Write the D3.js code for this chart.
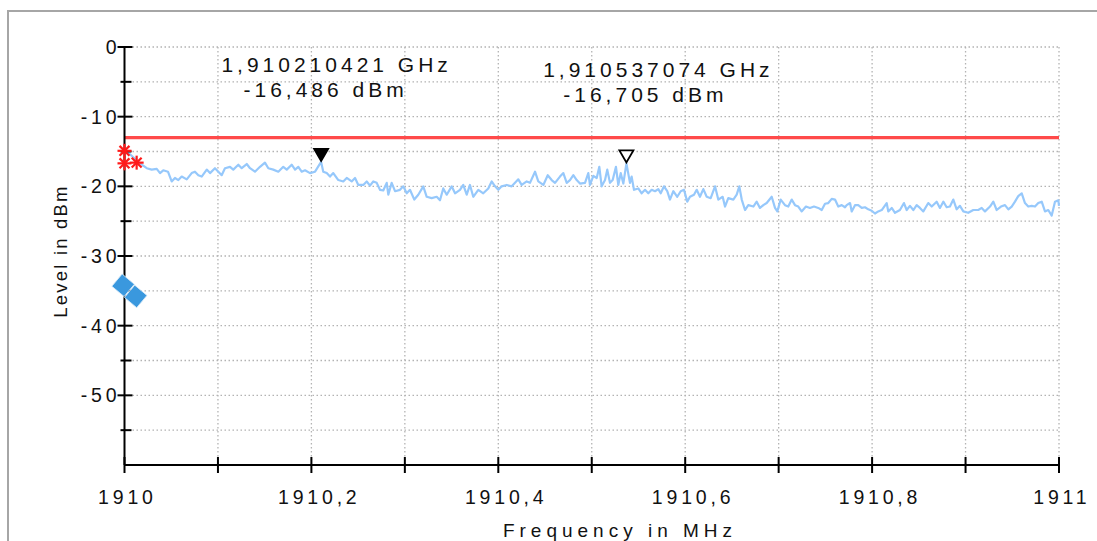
<!DOCTYPE html>
<html>
<head>
<meta charset="utf-8">
<script src="https://cdn.jsdelivr.net/npm/d3@7"></script>
<style>
  html, body { margin: 0; padding: 0; background: #fff; }
  svg { display: block; }
  text { font-family: "Liberation Sans", Arial, sans-serif; fill: #111; }
</style>
</head>
<body>
<svg id="chart" width="1097" height="541"></svg>
<script>
// Spectrum trace: frequency offset from 1910 MHz in kHz, and level in dBm
const startMHz = 1910;
const traceOffsetKHz = [
  0, 5.9, 16.6, 23.8, 29.1, 34.5, 38.0, 41.5, 46.5, 50.5, 54.0, 57.6, 61.2, 66.6, 71.9, 75.4,
  79.0, 82.6, 88.0, 91.5, 96.8, 100.4, 104.0, 107.5, 112.9, 116.4, 121.8, 125.4, 130.8, 134.3,
  139.6, 145.0, 150.3, 153.9, 159.2, 164.6, 169.9, 173.6, 178.9, 182.5, 186.0, 189.6, 193.2,
  198.5, 203.9, 210.4, 212.7, 216.4, 219.9, 223.4, 228.8, 234.1, 237.8, 243.1, 246.7, 250.2,
  255.5, 259.2, 262.7, 266.2, 269.9, 273.4, 276.9, 280.6, 282.3, 285.9, 289.5, 294.8, 298.3,
  302.0, 305.5, 310.1, 314.4, 319.7, 323.4, 328.7, 334.1, 337.6, 341.1, 344.8, 350.1, 353.7,
  359.0, 362.5, 366.2, 369.7, 373.2, 378.6, 383.9, 389.3, 392.9, 396.5, 400.0, 403.6, 409.0,
  414.3, 417.9, 421.4, 425.0, 430.4, 433.9, 439.3, 442.8, 448.2, 452.9, 457.1, 460.7, 466.0,
  469.6, 473.2, 476.7, 480.3, 483.9, 487.4, 492.8, 496.3, 498.1, 501.7, 505.3, 508.1, 510.6,
  514.2, 516.6, 519.5, 522.4, 525.9, 528.4, 531.0, 533.8, 537.1, 540.9, 542.7, 545.2, 549.8,
  553.4, 557.0, 560.5, 564.1, 567.7, 571.2, 573.8, 577.3, 580.8, 583.7, 587.3, 591.5, 595.2,
  598.7, 602.2, 605.1, 609.4, 612.3, 615.8, 619.4, 623.0, 627.3, 631.9, 635.4, 640.1, 642.6,
  646.1, 651.5, 655.1, 657.9, 660.5, 664.0, 667.5, 672.9, 676.5, 680.0, 683.6, 687.2, 692.6,
  696.1, 698.6, 702.2, 706.8, 710.3, 714.0, 717.5, 721.0, 724.6, 729.2, 733.5, 737.8, 742.4,
  746.1, 749.6, 753.1, 756.8, 760.3, 763.8, 767.5, 771.0, 772.8, 776.4, 778.2, 781.7, 785.2,
  788.9, 792.4, 795.9, 799.6, 803.1, 806.6, 810.3, 815.6, 817.3, 821.0, 824.5, 829.8, 834.1,
  837.0, 840.5, 844.1, 847.7, 851.2, 854.8, 860.1, 863.8, 869.1, 872.6, 876.2, 879.8, 883.3,
  886.9, 890.5, 894.0, 897.6, 902.9, 908.3, 913.6, 917.3, 920.8, 926.2, 929.7, 933.3, 937.9,
  942.2, 945.8, 949.4, 952.9, 956.4, 960.1, 963.6, 967.1, 970.8, 974.3, 977.8, 981.5, 985.0,
  988.5, 992.2, 995.7, 999.3, 1000
];
const traceLevel = [
  -15.0, -15.4, -16.7, -17.4, -17.6, -17.5, -18.1, -17.7, -17.9, -19.3, -18.8, -19.1, -18.6, -19.0, -18.1, -17.9,
  -18.4, -18.6, -17.6, -18.1, -17.4, -17.9, -18.4, -17.4, -17.2, -17.6, -16.9, -17.4, -16.8, -17.4,
  -17.9, -17.2, -16.6, -17.4, -17.6, -17.9, -17.2, -17.6, -16.9, -17.6, -17.2, -17.9, -17.7,
  -18.1, -17.9, -16.49, -17.9, -18.1, -18.6, -18.1, -19.1, -19.3, -18.8, -19.3, -18.8, -19.8,
  -19.8, -19.3, -19.9, -19.3, -19.5, -20.5, -20.6, -19.5, -21.2, -19.5, -20.7, -20.5, -20.0,
  -21.0, -20.5, -21.9, -21.2, -20.0, -21.5, -21.7, -21.5, -22.0, -20.3, -21.2, -20.0, -21.0,
  -20.5, -19.8, -21.2, -19.8, -21.5, -20.5, -21.0, -20.3, -19.3, -20.0, -20.5, -20.0, -19.8,
  -20.0, -19.5, -19.0, -19.8, -19.3, -19.5, -17.9, -19.3, -19.8, -18.4, -19.1, -19.5, -18.6,
  -18.1, -19.5, -19.1, -18.4, -19.1, -19.6, -19.5, -18.1, -19.8, -18.5, -18.8, -17.2, -20.0,
  -19.1, -17.6, -19.5, -19.1, -17.2, -19.8, -18.1, -19.6, -16.705, -19.5, -18.6, -20.5, -20.3,
  -21.0, -20.5, -21.0, -20.5, -20.7, -20.4, -21.0, -20.0, -20.7, -21.9, -20.7, -21.5, -20.7,
  -20.5, -22.2, -21.5, -21.2, -20.5, -21.5, -20.4, -21.5, -21.7, -20.0, -21.9, -21.5, -22.9,
  -21.7, -21.9, -21.2, -20.0, -21.9, -23.4, -22.7, -22.9, -22.2, -23.1, -22.7, -22.4, -21.5,
  -23.1, -23.6, -21.9, -22.7, -22.9, -21.9, -22.7, -22.9, -23.6, -22.9, -23.1, -22.9, -23.1,
  -23.4, -22.5, -22.4, -21.8, -21.9, -22.9, -22.7, -23.0, -22.7, -22.4, -23.6, -22.7, -22.7,
  -23.1, -23.0, -23.3, -23.5, -23.9, -23.6, -23.4, -22.4, -23.6, -23.1, -23.8, -23.4, -22.4,
  -23.4, -22.8, -23.4, -22.7, -23.1, -23.6, -22.4, -22.9, -22.2, -23.1, -22.2, -23.0, -22.9,
  -21.9, -23.3, -22.8, -23.6, -23.8, -23.4, -23.4, -23.1, -23.6, -22.9, -22.2, -23.4, -22.9,
  -22.7, -23.3, -22.9, -22.2, -21.4, -21.0, -22.4, -22.9, -22.8, -22.9, -22.4, -22.2, -23.6,
  -23.4, -24.2, -22.2, -22.0, -22.8
];

// Peak markers
const markerFreqMHz = [1910.210421, 1910.537074];
const markerLevel = [-16.486, -16.705];
const markerFilled = [true, false];

// Limit line
const limitLevel = -13;

// Limit-check hits (red asterisks) and reference points (blue diamonds)
const hitFreqMHz = [1910.0, 1910.0, 1910.013];
const hitLevel = [-14.9, -16.7, -16.6];
const refFreqMHz = [1909.9985, 1910.012];
const refLevel = [-34.2, -35.8];

// Axis ticks
const xMajorTicks = [1910, 1910.2, 1910.4, 1910.6, 1910.8, 1911];
const xMinorTicks = [1910.1, 1910.3, 1910.5, 1910.7, 1910.9];
const yMajorTicks = [0, -10, -20, -30, -40, -50];
const yMinorTicks = [-5, -15, -25, -35, -45, -55];

const xTitle = "Frequency in MHz";
const yTitle = "Level in dBm";

// ---- layout ----
const W = 1097, H = 541;
const plot = { left: 124.5, right: 1059, top: 47, bottom: 465 };
const labelSpacing = 3.8;
const labelSize = 19.5;
const readoutSize = 21;
const readoutSpacing = 4;

const svg = d3.select("#chart");
const x = d3.scaleLinear().domain([1910, 1911]).range([plot.left, plot.right]);
const y = d3.scaleLinear().domain([-60, 0]).range([plot.bottom, plot.top]);

const de = d3.formatLocale({ decimal: ",", thousands: ".", grouping: [3], currency: ["", " €"], minus: "-" });
const fmtTick = de.format("~f");
const fmtGHz = de.format(".9f");
const fmtLvl = de.format(".3f");

// Outer frame
svg.append("rect")
  .attr("x", 8).attr("y", 11).attr("width", W + 20).attr("height", H + 20)
  .attr("fill", "none").attr("stroke", "#a6a6a6").attr("stroke-width", 2);

// Dotted grid
const grid = svg.append("g").attr("stroke", "#b3b3b3").attr("stroke-width", 1.3)
  .attr("stroke-dasharray", "1.5,2.5").attr("fill", "none");
const yGrid = yMajorTicks.concat(yMinorTicks);
grid.selectAll("line.h").data(yGrid).join("line").attr("class", "h")
  .attr("x1", plot.left).attr("x2", plot.right)
  .attr("y1", d => y(d)).attr("y2", d => y(d));
const xGrid = xMajorTicks.concat(xMinorTicks).filter(d => d > 1910);
grid.selectAll("line.v").data(xGrid).join("line").attr("class", "v")
  .attr("x1", d => x(d)).attr("x2", d => x(d))
  .attr("y1", plot.top).attr("y2", plot.bottom);

// Limit line
svg.append("line")
  .attr("x1", x(1910)).attr("x2", x(1911))
  .attr("y1", y(limitLevel)).attr("y2", y(limitLevel))
  .attr("stroke", "#ff4a4a").attr("stroke-width", 3.2);

// Trace
const trace = traceOffsetKHz.map((k, i) => [startMHz + k / 1000, traceLevel[i]]);
svg.append("path")
  .datum(trace)
  .attr("fill", "none")
  .attr("stroke", "#96c8fb")
  .attr("stroke-width", 2.2)
  .attr("stroke-linejoin", "round")
  .attr("d", d3.line().x(d => x(d[0])).y(d => y(d[1])));

// Axes (lines + crossing ticks)
const axes = svg.append("g").attr("stroke", "#000");
axes.append("line").attr("x1", plot.left).attr("x2", plot.left)
  .attr("y1", plot.top).attr("y2", plot.bottom).attr("stroke-width", 2);
axes.append("line").attr("x1", plot.left).attr("x2", plot.right)
  .attr("y1", plot.bottom).attr("y2", plot.bottom).attr("stroke-width", 2.2);
axes.selectAll("line.ymaj").data(yMajorTicks).join("line").attr("class", "ymaj")
  .attr("x1", plot.left - 7).attr("x2", plot.left + 8)
  .attr("y1", d => y(d)).attr("y2", d => y(d)).attr("stroke-width", 2);
axes.selectAll("line.ymin").data(yMinorTicks).join("line").attr("class", "ymin")
  .attr("x1", plot.left - 4).attr("x2", plot.left + 7)
  .attr("y1", d => y(d)).attr("y2", d => y(d)).attr("stroke-width", 2);
axes.selectAll("line.xt").data(xMajorTicks.concat(xMinorTicks)).join("line").attr("class", "xt")
  .attr("x1", d => x(d)).attr("x2", d => x(d))
  .attr("y1", plot.bottom - 8).attr("y2", plot.bottom + 8).attr("stroke-width", 2);

// Tick labels
svg.append("g").selectAll("text").data(yMajorTicks).join("text")
  .attr("x", plot.left - 8 + labelSpacing)
  .attr("y", d => y(d) + 7)
  .attr("text-anchor", "end")
  .attr("font-size", labelSize)
  .attr("letter-spacing", labelSpacing)
  .text(d => fmtTick(d));

svg.append("g").selectAll("text").data(xMajorTicks).join("text")
  .attr("x", d => x(d) + labelSpacing / 2 + (Number.isInteger(d) ? 1 : 6))
  .attr("y", 504)
  .attr("text-anchor", "middle")
  .attr("font-size", labelSize)
  .attr("letter-spacing", labelSpacing)
  .text(d => fmtTick(d));

// Axis titles
svg.append("text")
  .attr("x", 620)
  .attr("y", 537)
  .attr("text-anchor", "middle")
  .attr("font-size", 19)
  .attr("letter-spacing", 5)
  .text(xTitle);

svg.append("text")
  .attr("transform", "translate(67,251) rotate(-90)")
  .attr("text-anchor", "middle")
  .attr("font-size", 18.5)
  .attr("letter-spacing", 2.2)
  .text(yTitle);

// Red asterisks
const star = svg.append("g").attr("stroke", "#ff1a1a").attr("stroke-width", 2.2);
hitFreqMHz.forEach((f, i) => {
  const cx = x(f), cy = y(hitLevel[i]), r = 7;
  [0, 45, 90, 135].forEach(a => {
    const t = a * Math.PI / 180;
    star.append("line")
      .attr("x1", cx - r * Math.cos(t)).attr("y1", cy - r * Math.sin(t))
      .attr("x2", cx + r * Math.cos(t)).attr("y2", cy + r * Math.sin(t));
  });
});

// Blue diamonds, with a faint light edge so the two stay distinguishable
svg.append("g").selectAll("rect").data(refFreqMHz).join("rect")
  .attr("x", -8).attr("y", -8).attr("width", 16).attr("height", 16)
  .attr("fill", "#3a98de")
  .attr("stroke", "#d6e9f8").attr("stroke-width", 0.8)
  .attr("transform", (d, i) => `translate(${x(d)},${y(refLevel[i])}) rotate(40)`);

// Peak markers: downward triangles whose apex sits on the peak
const tri = "M-7,-12 L7,-12 L0,0 Z";
svg.append("g").selectAll("path").data(markerFreqMHz).join("path")
  .attr("d", tri)
  .attr("transform", (d, i) => `translate(${x(d)},${y(markerLevel[i]) - 1})`)
  .attr("fill", (d, i) => markerFilled[i] ? "#000" : "#fff")
  .attr("stroke", "#000")
  .attr("stroke-width", 1.8)
  .attr("stroke-linejoin", "miter");

// Marker readouts
const readoutOffsets = [
  { fx: 13.5, fy: 72, lx: 2.5, ly: 97 },
  { fx: 30, fy: 77, lx: 17, ly: 102 }
];
markerFreqMHz.forEach((f, i) => {
  const o = readoutOffsets[i];
  svg.append("text")
    .attr("x", x(f) + o.fx + readoutSpacing / 2).attr("y", o.fy)
    .attr("text-anchor", "middle").attr("font-size", readoutSize)
    .attr("letter-spacing", readoutSpacing)
    .text(`${fmtGHz(f / 1000)} GHz`);
  svg.append("text")
    .attr("x", x(f) + o.lx + readoutSpacing / 2).attr("y", o.ly)
    .attr("text-anchor", "middle").attr("font-size", readoutSize)
    .attr("letter-spacing", readoutSpacing)
    .text(`${fmtLvl(markerLevel[i])} dBm`);
});
</script>
</body>
</html>
